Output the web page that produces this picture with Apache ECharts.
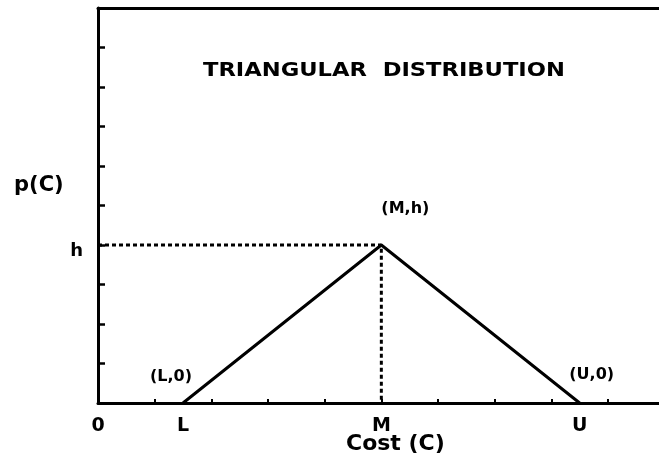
<!DOCTYPE html>
<html>
<head>
<meta charset="utf-8">
<script src="https://cdn.jsdelivr.net/npm/echarts@6/dist/echarts.min.js"></script>
<style>
  html, body { margin: 0; padding: 0; background: #fff; }
  #container { width: 659px; height: 468px; }
</style>
</head>
<body>
<div id="container"></div>
<script>
// triangle corners: (L,0), (M,h), (U,0)
const pointX = [1.5, 5, 8.5];
const pointY = [0, 4, 0];
const pointNames = ['(L,0)', '(M,h)', '(U,0)'];
// x tick labels
const xTickValues = [0, 1.5, 5, 8.5];
const xTickLabels = ['0', 'L', 'M', 'U'];
const xTicks = [0, 1, 2, 3, 4, 5, 6, 7, 8, 9];
// y ticks and label
const yTicks = [0, 1, 2, 3, 4, 5, 6, 7, 8, 9, 10];
const yTickValue = 4;
const yTickLabel = 'h';

const FONT = '"DejaVu Sans", sans-serif';

let dom = document.getElementById('container');
let myChart = echarts.init(dom, null, { renderer: 'canvas' });

const labelOffsets = [[-12, -26], [24, -36], [12, -28]];
const triangle = pointX.map((x, i) => ({
    value: [x, pointY[i]],
    label: {
        show: true,
        position: 'inside',
        offset: labelOffsets[i],
        formatter: pointNames[i],
        color: '#000',
        fontFamily: FONT,
        fontWeight: 'bold',
        fontSize: 16
    }
}));
// dotted guide from the h tick to the peak and down to M
const guide = [[0, pointY[1]], [pointX[1], pointY[1]], [pointX[1], 0]];

const option = {
    backgroundColor: '#fff',
    animation: false,
    grid: { left: 98, right: 0, top: 8, bottom: 65, outerBoundsMode: 'none' },
    xAxis: [
        {
            type: 'value', position: 'bottom', min: 0, max: 9.9,
            axisLine: { lineStyle: { color: '#000', width: 3 } },
            axisTick: { inside: true, length: 4, customValues: xTicks, lineStyle: { color: '#000', width: 2 } },
            splitLine: { show: false },
            axisLabel: {
                customValues: xTickValues,
                margin: 14,
                color: '#000',
                fontFamily: FONT,
                fontWeight: 'bold',
                fontSize: 19,
                formatter: (v) => {
                    const i = xTickValues.findIndex(t => Math.abs(t - v) < 1e-6);
                    return i >= 0 ? xTickLabels[i] : '';
                }
            }
        },
        {
            type: 'value', position: 'top', min: 0, max: 9.9,
            axisLine: { show: true, lineStyle: { color: '#000', width: 3 } },
            axisTick: { show: false },
            axisLabel: { show: false },
            splitLine: { show: false }
        }
    ],
    yAxis: {
        type: 'value', min: 0, max: 10,
        axisLine: { show: true, lineStyle: { color: '#000', width: 3 } },
        axisTick: { show: true, inside: true, length: 7, customValues: yTicks, lineStyle: { color: '#000', width: 2.5 } },
        splitLine: { show: false },
        axisLabel: {
            customValues: [yTickValue],
            margin: 15,
            color: '#000',
            fontFamily: FONT,
            fontWeight: 'bold',
            fontSize: 18,
            formatter: (v) => (v === yTickValue ? '{a|' + yTickLabel + '}' : ''),
            rich: {
                a: { padding: [12, 0, 0, 0], color: '#000', fontFamily: FONT, fontWeight: 'bold', fontSize: 18 }
            }
        }
    },
    graphic: [
        {
            type: 'text', left: 203, top: 62, scaleX: 1.19,
            style: { text: 'TRIANGULAR  DISTRIBUTION', fill: '#000', font: 'bold 19px ' + FONT }
        },
        {
            type: 'text', left: 14, top: 175,
            style: { text: 'p(C)', fill: '#000', font: 'bold 21px ' + FONT }
        },
        {
            type: 'text', left: 346, top: 433,
            style: { text: 'Cost (C)', fill: '#000', font: 'bold 22px ' + FONT }
        }
    ],
    series: [
        {
            type: 'line',
            data: guide,
            symbol: 'none',
            lineStyle: { color: '#000', width: 3, type: [4, 3] },
            z: 1
        },
        {
            type: 'line',
            data: triangle,
            symbol: 'circle',
            symbolSize: 0,
            showSymbol: true,
            lineStyle: { color: '#000', width: 3 },
            z: 2
        }
    ]
};

myChart.setOption(option);
</script>
</body>
</html>
